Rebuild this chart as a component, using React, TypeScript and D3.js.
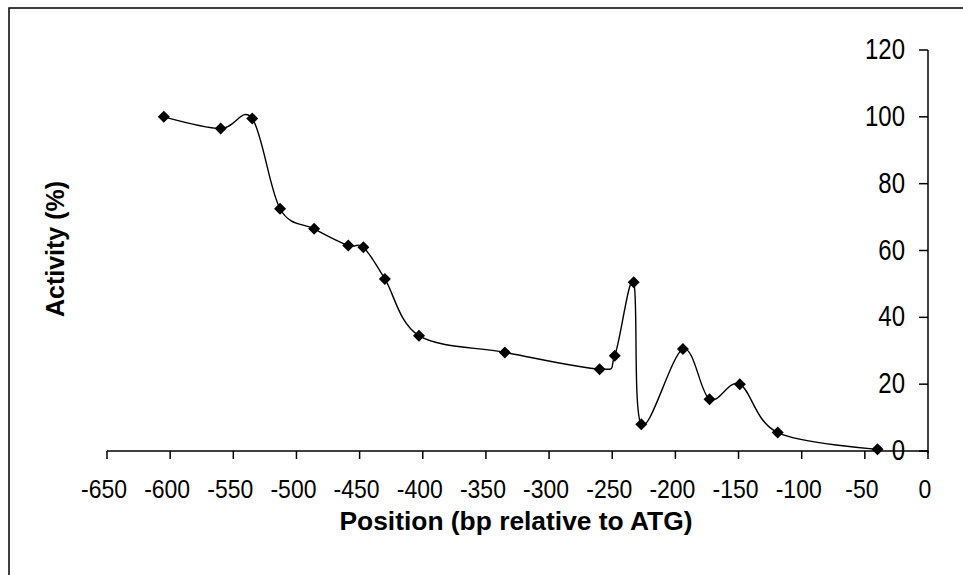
import React from "react";
import * as d3 from "d3";

const positions = [-605, -560, -535, -513, -486, -459, -447, -430, -403, -335, -260, -248, -233, -227, -194, -173, -149, -119, -40];
const activity = [100, 96.5, 99.5, 72.5, 66.5, 61.5, 61, 51.5, 34.5, 29.5, 24.5, 28.5, 50.5, 8, 30.5, 15.5, 20, 5.5, 0.5];
const xTicks = [-650, -600, -550, -500, -450, -400, -350, -300, -250, -200, -150, -100, -50, 0];
const yTicks = [0, 20, 40, 60, 80, 100, 120];
const xTitle = "Position (bp relative to ATG)";
const yTitle = "Activity (%)";

const W = 963;
const H = 575;

export default function App() {
  const x = d3.scaleLinear().domain([-650, 0]).range([107, 928]);
  const y = d3.scaleLinear().domain([0, 120]).range([451, 50]);
  const pts = positions.map((p, i) => [p, activity[i]] as [number, number]);
  const line = d3
    .line<[number, number]>()
    .x((d) => x(d[0]))
    .y((d) => y(d[1]))
    .curve(d3.curveCardinal.tension(0));
  const diamond = "M0,-6L6,0L0,6L-6,0Z";
  const font = "'Liberation Sans', Arial, sans-serif";
  return (
    <svg
      width={W}
      height={H}
      style={{ position: "absolute", left: 0, top: 0, background: "#fff" }}
    >
      <rect x={0} y={0} width={W} height={H} fill="#fff" />
      <rect x={9} y={8} width={W + 10} height={H + 10} fill="none" stroke="#000" strokeWidth={1.5} />
      {/* x axis */}
      <line x1={x(-650)} x2={x(0)} y1={y(0)} y2={y(0)} stroke="#000" strokeWidth={1.5} />
      {xTicks.map((t) => (
        <g key={t}>
          <line x1={x(t)} x2={x(t)} y1={y(0)} y2={y(0) + 8} stroke="#000" strokeWidth={1.5} />
          <text
            x={0}
            y={0}
            transform={`translate(${x(t) - 3},${498}) scale(1,1.1)`}
            textAnchor="middle"
            fontFamily={font}
            fontSize={23}
            fill="#000"
          >
            {t}
          </text>
        </g>
      ))}
      {/* y axis */}
      <line x1={x(0)} x2={x(0)} y1={y(120)} y2={y(0) + 2} stroke="#000" strokeWidth={1.5} />
      {yTicks.map((t) => (
        <g key={t}>
          <line x1={x(0) - 9} x2={x(0)} y1={y(t)} y2={y(t)} stroke="#000" strokeWidth={1.5} />
          <text
            x={0}
            y={0}
            transform={`translate(${905},${y(t) + 9}) scale(1,1.2)`}
            textAnchor="end"
            fontFamily={font}
            fontSize={24}
            fill="#000"
          >
            {t}
          </text>
        </g>
      ))}
      {/* data */}
      <path d={line(pts) ?? ""} fill="none" stroke="#000" strokeWidth={1.4} />
      {pts.map((d, i) => (
        <path key={i} d={diamond} transform={`translate(${x(d[0])},${y(d[1])})`} fill="#000" />
      ))}
      {/* titles */}
      <text
        x={516}
        y={530}
        textAnchor="middle"
        fontFamily={font}
        fontWeight="bold"
        fontSize={25}
        textLength={353}
        lengthAdjust="spacingAndGlyphs"
        fill="#000"
      >
        {xTitle}
      </text>
      <text
        transform={`translate(64,249) rotate(-90)`}
        textAnchor="middle"
        fontFamily={font}
        fontWeight="bold"
        fontSize={25}
        fill="#000"
      >
        {yTitle}
      </text>
    </svg>
  );
}
